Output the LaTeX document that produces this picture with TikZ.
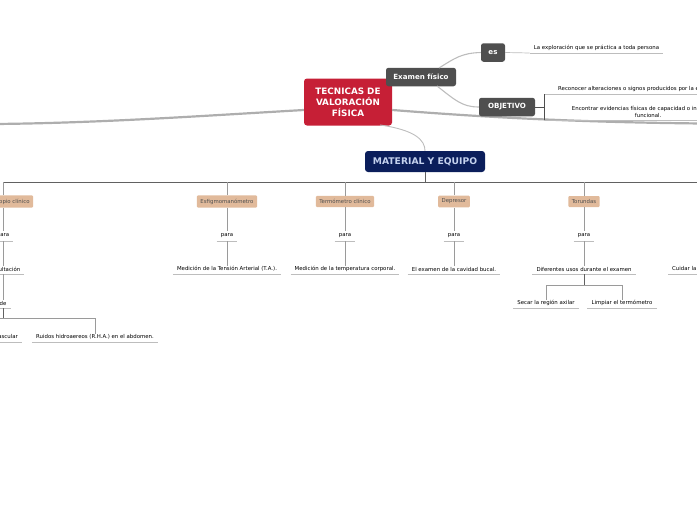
\documentclass[tikz,border=0pt]{standalone}
\usepackage{fontspec}
\setmainfont{DejaVu Sans}
\usetikzlibrary{positioning}
\definecolor{rojo}{HTML}{C61F36}
\definecolor{gris}{HTML}{4F4F4F}
\definecolor{marino}{HTML}{0B1E5B}
\definecolor{letramarino}{HTML}{C5D2EE}
\definecolor{piel}{HTML}{E1BA9B}
\definecolor{grueso}{HTML}{AEAEAE}
\definecolor{linea}{HTML}{9A9A9A}
\definecolor{subraya}{HTML}{BDBDBD}
\begin{document}
\begin{tikzpicture}[x=1pt,y=-1pt,
        raiz/.style={fill=rojo,rounded corners=3pt,text=white,align=center,
            font=\bfseries\fontsize{8.8}{11}\selectfont,minimum width=88pt,minimum height=47pt},
        tema/.style={fill=gris,rounded corners=2.5pt,text=white,inner xsep=0pt,
            font=\bfseries\fontsize{7.1}{8}\selectfont,minimum height=18.5pt},
        equipo/.style={fill=marino,rounded corners=3pt,text=letramarino,minimum width=120pt,
            font=\bfseries\fontsize{9.2}{10}\selectfont,minimum height=21pt},
        objeto/.style={fill=piel,rounded corners=1pt,text=gris,inner xsep=3.5pt,
            font=\fontsize{5.4}{6}\selectfont,minimum height=11pt},
        hoja/.style={inner xsep=4pt,inner ysep=0pt,font=\fontsize{5.4}{7}\selectfont,
            minimum height=10pt,align=center,
            append after command={\pgfextra{\let\hj\tikzlastnode}
                (\hj.south west) edge[draw=subraya,line width=.7pt] (\hj.south east)}},
        rama/.style={draw=linea,line width=.7pt},
        barra/.style={draw=gris!90,line width=.8pt},
        ancha/.style={draw=grueso,line width=2.2pt},
        fina/.style={draw=subraya,line width=1.1pt},
    ]
    \useasboundingbox (0,0) rectangle (697,520);
    \clip (0,0) rectangle (697,520);

    % ramas que salen de la figura
    \coordinate (izq) at (-5,124);
    \coordinate (der) at (702,123.5);
    \node[raiz] (tec) at (348,102) {TECNICAS DE\\VALORACIÓN\\FÍSICA};
    \draw[ancha] (tec.west |- 0,110) .. controls (200,116) and (100,123) .. (izq);
    \draw[ancha] (tec.east |- 0,110) .. controls (470,116) and (560,122) .. (der);

    % examen fisico
    \node[tema,minimum width=70pt] (exa) at (421,77) {Examen físico};
    \node[tema,minimum width=24pt] (es) at (493,52.5) {es};
    \node[tema,minimum width=56pt] (obj) at (507,107) {OBJETIVO};
    \draw[fina] (439,68) .. controls (455,58) and (462,53) .. (es.west);
    \draw[fina] (437,86) .. controls (455,100) and (462,107) .. (obj.west);
    \node[hoja,minimum width=133pt,anchor=south] (expl) at (596.5,53)
        {La exploración que se práctica a toda persona};
    \draw[draw=subraya,line width=.7pt] (es.east) -- (expl.south west);

    \node[hoja,minimum width=200pt,anchor=south west] (rec) at (544,94)
        {Reconocer alteraciones o signos producidos por la enfermedad.};
    \node[hoja,minimum width=208pt,inner ysep=2.5pt,anchor=south west] (enc) at (544,120)
        {Encontrar evidencias físicas de capacidad o incapacidad\\funcional.};
    \draw[draw=gris,line width=.6pt] (obj.east) -- (rec.south west |- obj.east);
    \draw[draw=gris,line width=.6pt] (rec.south west) -- (enc.south west);

    % material y equipo
    \node[equipo] (mat) at (425,161.5) {MATERIAL Y EQUIPO};
    \draw[draw=subraya,line width=.9pt] (380,125) .. controls (415,130) and (425,140) .. (mat.north);
    \draw[barra] (mat.south) -- (425,182) coordinate (bus);
    \draw[barra] (3,182) -- (697,182);

    \foreach \n/\x/\t in {est/3/Estetoscopio clínico, esf/227/Esfigmomanómetro,
        ter/345/Termómetro clínico, dep/454/Depresor, tor/584/Torundas} {
        \node[objeto] (\n) at (\x,201.5) {\t};
        \node[hoja] (\n-para) at (\x,236) {para};
        \draw[rama] (\n |- bus) -- (\n.north);
        \draw[rama] (\n.south) -- (\n-para.north);
    }

    \node[hoja] (aus) at (3,269) {Auscultación};
    \node[hoja] (tam) at (227,269) {Medición de la Tensión Arterial (T.A.).};
    \node[hoja] (tem) at (345,269) {Medición de la temperatura corporal.};
    \node[hoja] (buc) at (454,269) {El examen de la cavidad bucal.};
    \node[hoja] (uso) at (584,269) {Diferentes usos durante el examen};
    \node[hoja,anchor=west] (cui) at (668,269) {Cuidar la piel del paciente};
    \foreach \a/\b in {est/aus, esf/tam, ter/tem, dep/buc, tor/uso}
        \draw[rama] (\a-para.south) -- ([yshift=-2pt]\b.north);

    % auscultacion
    \node[hoja] (de) at (3,303) {de};
    \draw[rama] (aus.south) -- ([yshift=-2pt]de.north);
    \node[hoja,anchor=south east] (car) at (22,342) {Ruidos del sistema cardiovascular};
    \node[hoja] (rha) at (95,337) {Ruidos hidroaereos (R.H.A.) en el abdomen.};
    \draw[barra] (de.south) -- (3,318) coordinate (nudo);
    \draw[rama] (car.north |- nudo) -- (rha.north |- nudo) -- ([yshift=-2pt]rha.north);

    % torundas
    \node[hoja] (sec) at (546,303) {Secar la región axilar};
    \node[hoja] (lim) at (622,303) {Limpiar el termómetro};
    \draw[barra] (uso.south) -- (584,285) coordinate (nudo2);
    \draw[rama] ([yshift=-2pt]sec.north) -- (sec.north |- nudo2) -- (lim.north |- nudo2)
        -- ([yshift=-2pt]lim.north);
\end{tikzpicture}
\end{document}
